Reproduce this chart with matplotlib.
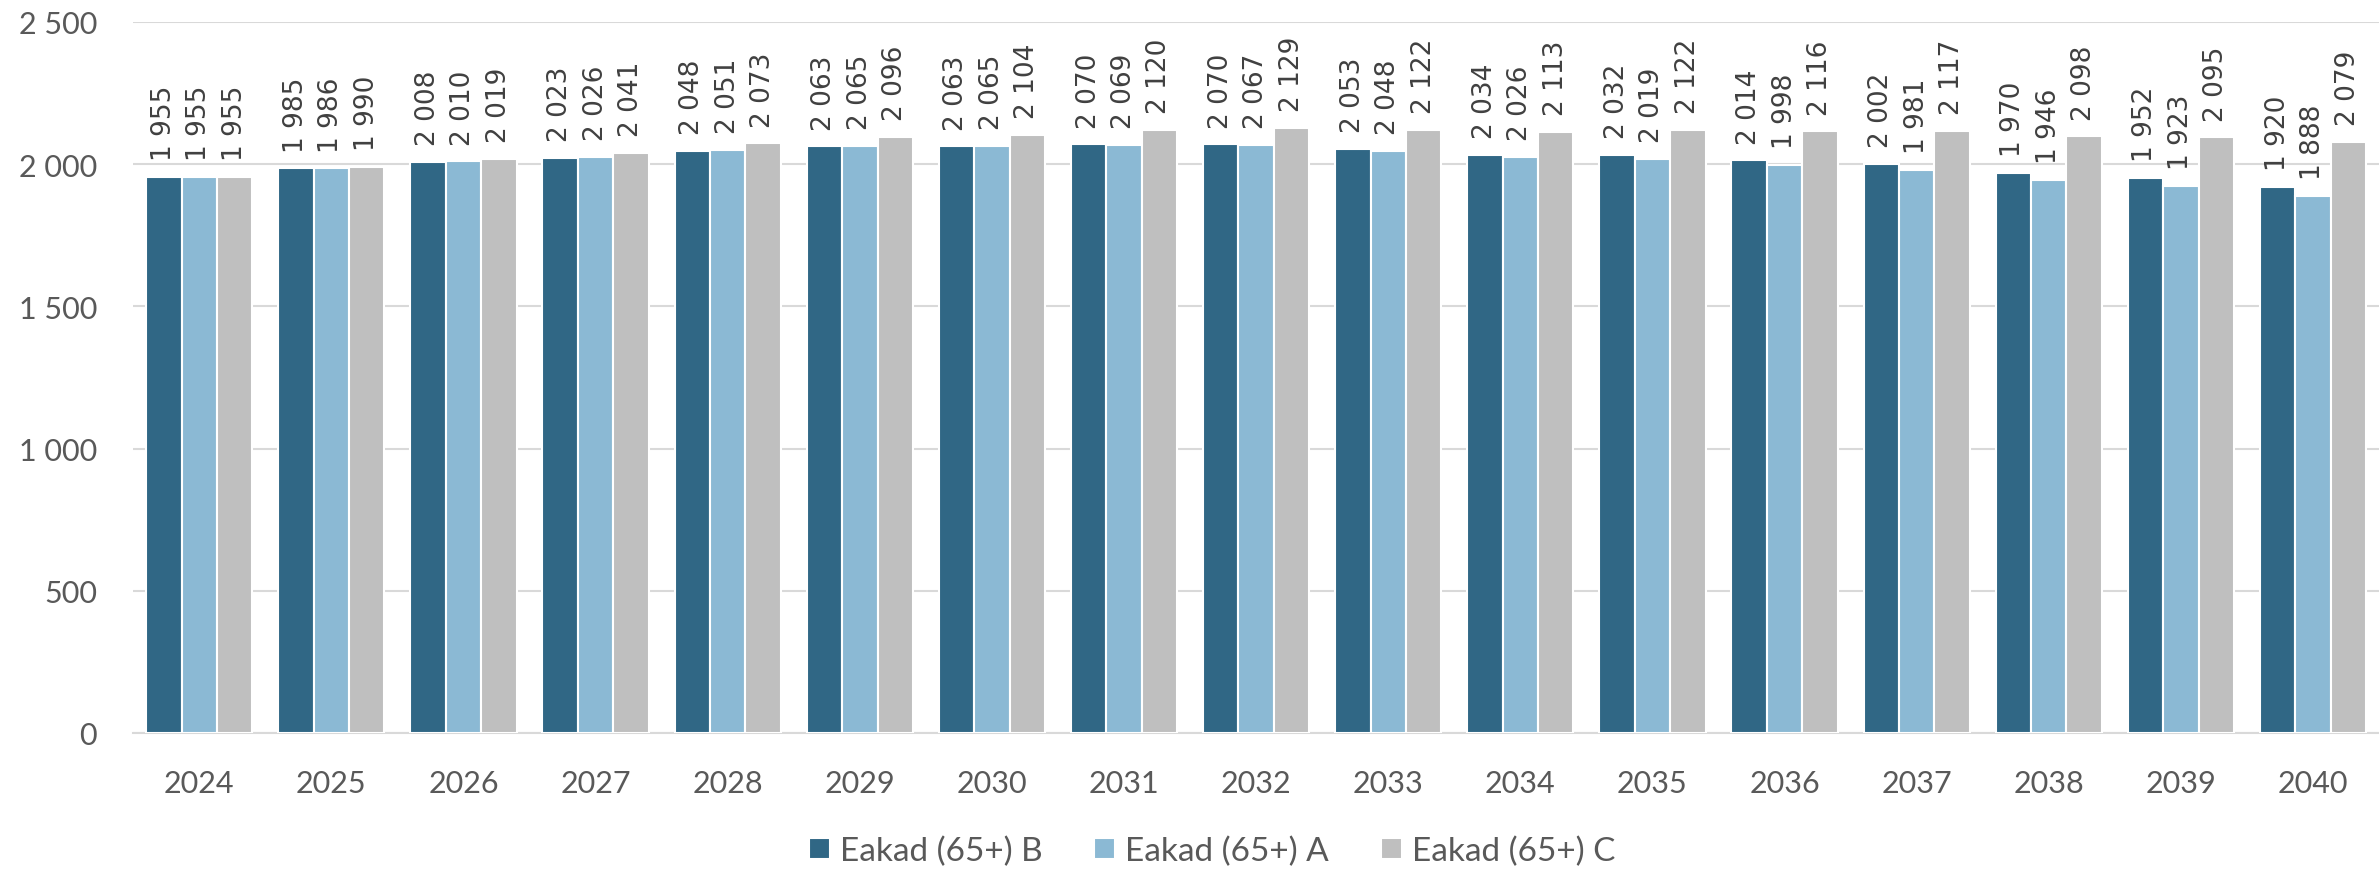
import matplotlib
matplotlib.use("Agg")
import matplotlib.pyplot as plt
import numpy as np
from matplotlib.ticker import FuncFormatter

years = ["2024", "2025", "2026", "2027", "2028", "2029", "2030", "2031", "2032",
         "2033", "2034", "2035", "2036", "2037", "2038", "2039", "2040"]
series_names = ["Eakad (65+) B", "Eakad (65+) A", "Eakad (65+) C"]
values_b = [1955, 1985, 2008, 2023, 2048, 2063, 2063, 2070, 2070, 2053, 2034, 2032, 2014, 2002, 1970, 1952, 1920]
values_a = [1955, 1986, 2010, 2026, 2051, 2065, 2065, 2069, 2067, 2048, 2026, 2019, 1998, 1981, 1946, 1923, 1888]
values_c = [1955, 1990, 2019, 2041, 2073, 2096, 2104, 2120, 2129, 2122, 2113, 2122, 2116, 2117, 2098, 2095, 2079]
colors = ["#306785", "#8BB9D4", "#BFBFBF"]

text_color = "#595959"
plt.rcParams['font.family'] = ['Lato', 'DejaVu Sans']

def fmt(v):
    return f"{int(v):,}".replace(",", " ")

fig = plt.figure(figsize=(23.79, 8.70), dpi=100)
ax = fig.add_axes([0.056, 1 - 734 / 870, 0.944, (734 - 23) / 870])

x = np.arange(len(years))
w = 0.268
all_series = [values_b, values_a, values_c]
for i, (vals, name, col) in enumerate(zip(all_series, series_names, colors)):
    pos = x + (i - 1) * w
    ax.bar(pos, vals, width=w, color=col, edgecolor="white", linewidth=1.5,
           label=name, zorder=3)
    for p, v in zip(pos, vals):
        ax.annotate(fmt(v), (p, v), xytext=(0, 12), textcoords="offset points",
                    rotation=90, ha="center", va="bottom", fontsize=19,
                    family="DejaVu Sans", color="#404040", zorder=4)

ax.set_xlim(-0.5, len(years) - 0.5)
ax.set_ylim(0, 2500)
ax.set_yticks(np.arange(0, 2501, 500))
ax.yaxis.set_major_formatter(FuncFormatter(lambda v, p: fmt(v)))
ax.set_xticks(x)
ax.set_xticklabels(years)
ax.grid(axis="y", color="#D9D9D9", linewidth=1.5, zorder=0)
ax.set_axisbelow(True)
for s in ["top", "right", "left"]:
    ax.spines[s].set_visible(False)
ax.spines["bottom"].set_color("#D9D9D9")
ax.spines["bottom"].set_linewidth(1.5)
ax.tick_params(axis="both", length=0, labelsize=22, colors=text_color)
ax.tick_params(axis="y", pad=26)
ax.tick_params(axis="x", pad=26)

handles, labels = ax.get_legend_handles_labels()
fig.legend(handles, labels, loc="center", bbox_to_anchor=(0.5095, 1 - 852 / 870),
           ncol=3, frameon=False, fontsize=24, labelcolor=text_color,
           handlelength=0.63, handleheight=0.63, handletextpad=0.3, columnspacing=1.56,
           borderpad=0.2)

fig.savefig("out.png", dpi=100)
